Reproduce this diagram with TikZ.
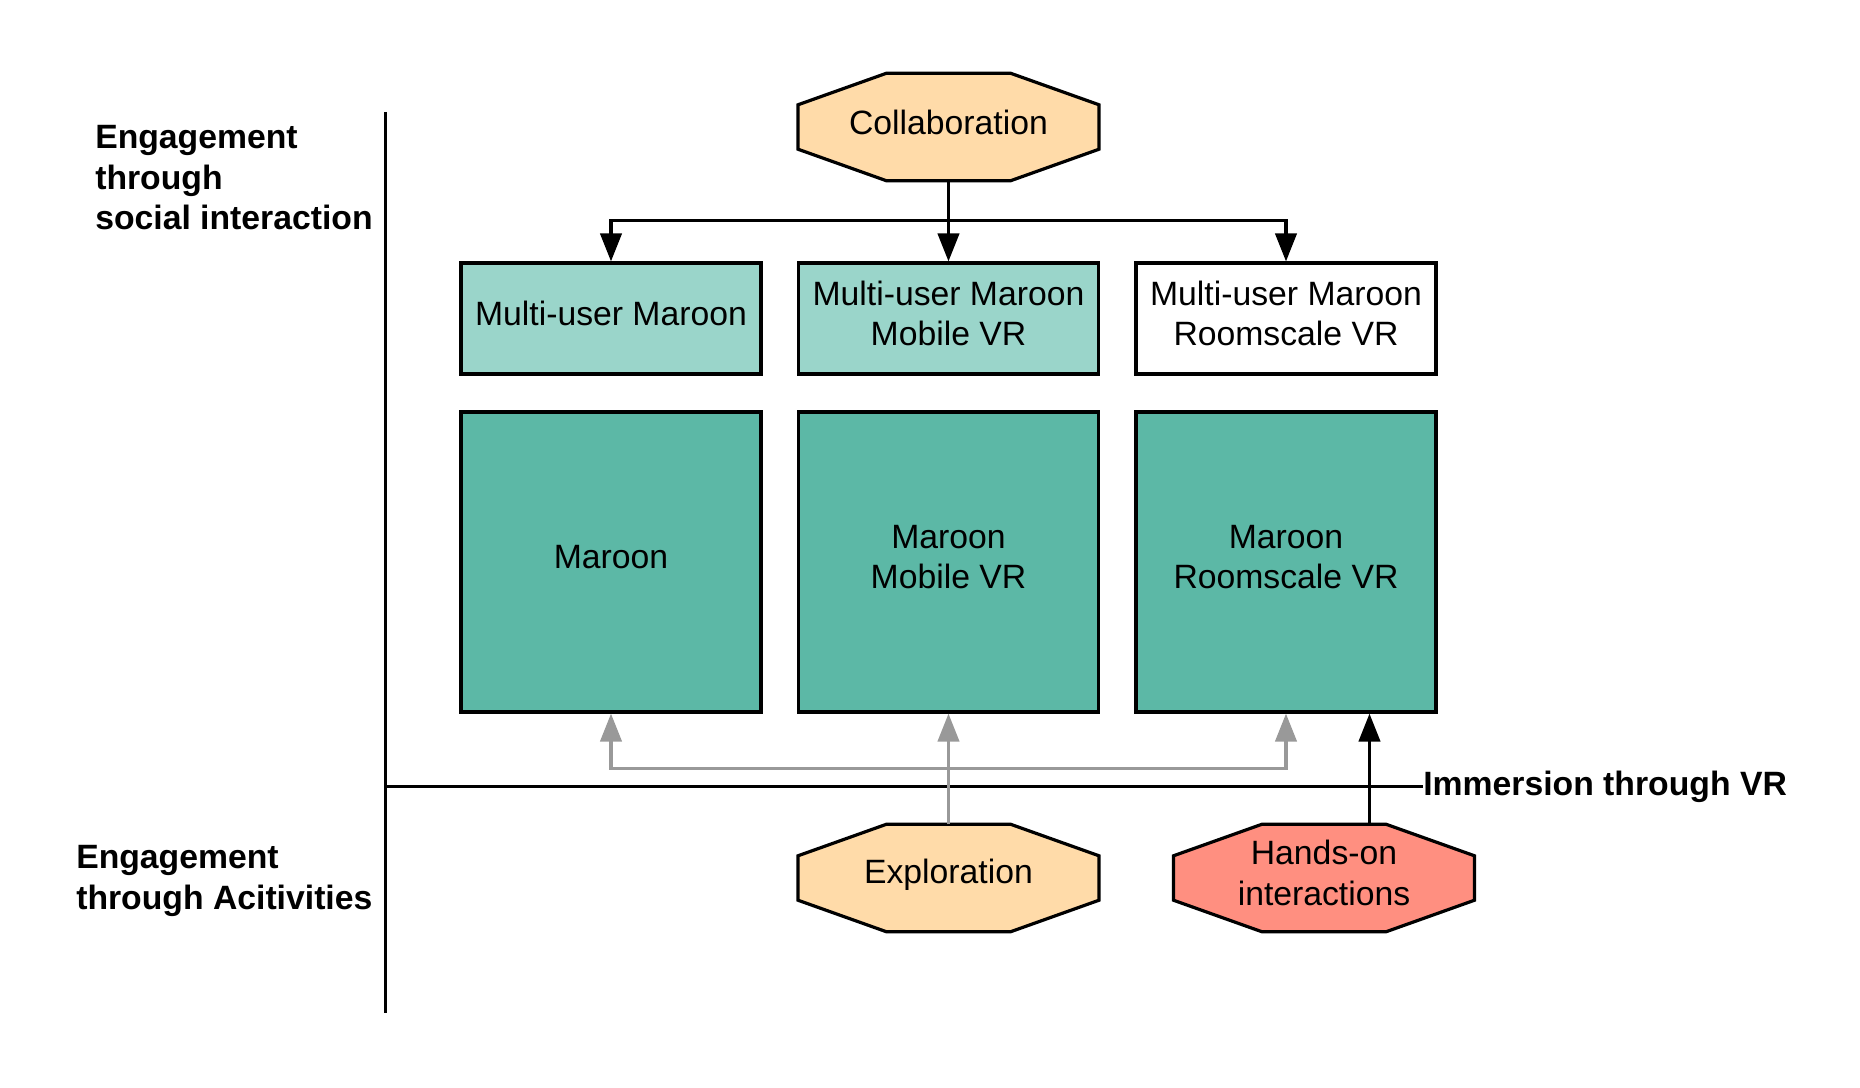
\documentclass[tikz,border=0pt]{standalone}
\usepackage{fontspec}
\setmainfont{Liberation Sans}
\usetikzlibrary{arrows.meta,calc,backgrounds}
\definecolor{peach}{HTML}{FFDBA9}
\definecolor{salmon}{HTML}{FF8F80}
\definecolor{lightteal}{HTML}{9AD5CA}
\definecolor{maroonteal}{HTML}{5CB8A6}
\definecolor{arrowgray}{HTML}{999999}
\tikzstyle{mubox} = [rectangle, draw=black, line width=2.4pt, minimum width=225pt, minimum height=83.25pt, text depth=7.5pt, align=center]
\tikzstyle{appbox} = [rectangle, draw=black, line width=2.4pt, fill=maroonteal, minimum width=225pt, minimum height=225pt, text depth=7.5pt, align=center]
\tikzstyle{octo} = [rectangle, outer sep=0pt, minimum width=225.75pt, minimum height=80.5pt, text depth=7.5pt, align=center]
\tikzstyle{conn} = [line width=2.4pt, -{Triangle[length=21pt,width=16pt]}]
\tikzstyle{gconn} = [conn, draw=arrowgray]
\tikzstyle{axis} = [line width=2.4pt]
\tikzstyle{axislabel} = [font=\fontsize{25.3}{30.4}\selectfont\bfseries, inner sep=0pt, align=left]

\begin{document}
\begin{tikzpicture}[x=0.75pt, y=-0.75pt, font=\fontsize{25.3}{30.4}\selectfont]
    \useasboundingbox (0,0) rectangle (1860,1088);
    \node[octo] (collab) at (948.5,127) {Collaboration};
    \node[mubox, fill=lightteal] (mu1) at (611,318.5) {Multi-user Maroon};
    \node[mubox, fill=lightteal] (mu2) at (948.5,318.5) {Multi-user Maroon\\Mobile VR};
    \node[mubox, fill=white] (mu3) at (1286,318.5) {Multi-user Maroon\\Roomscale VR};
    \node[appbox] (app1) at (611,562) {Maroon};
    \node[appbox] (app2) at (948.5,562) {Maroon\\Mobile VR};
    \node[appbox] (app3) at (1286,562) {Maroon\\Roomscale VR};
    \node[octo, text depth=9.6pt] (explore) at (948.5,878) {Exploration};
    \node[octo] (hands) at (1324,878) {Hands-on\\interactions};

    \node[axislabel, anchor=west] (social) at (95,178) {Engagement\\through\\social interaction};
    \node[axislabel, anchor=west] (activ) at (76,881) {Engagement\\through Acitivities};
    \node[axislabel, anchor=west] (immersion) at (1423,786.6) {Immersion through VR};
    \coordinate (ytop) at (385.5,112);
    \coordinate (ybot) at (385.5,1013);
    \coordinate (origin) at (385.5,786.6);
    \draw[axis] (ytop) -- (ybot);
    \draw[axis] (origin) -- (immersion.west);

    \coordinate (bus) at ($(collab.south)+(0,40)$);
    \draw[conn] (collab.south) -- (mu2.north);
    \draw[conn] (bus) -| (mu1.north);
    \draw[conn] (bus) -| (mu3.north);

    \coordinate (gbus) at ($(explore.north)+(0,-56)$);
    \draw[gconn] (explore.north) -- (app2.south);
    \draw[gconn] (gbus) -| (app1.south);
    \draw[gconn] (gbus) -| (app3.south);

    \coordinate (hfoot) at ($(hands.north)+(45.5,0)$);
    \draw[conn] (hfoot) -- (hfoot |- app3.south);

    \begin{scope}[on background layer]
        \foreach \n/\c in {collab/peach, explore/peach, hands/salmon}
            \filldraw[fill=\c, draw=black, line width=2.4pt]
                ($(\n.north west)!.293!(\n.north east)$) -- ($(\n.north east)!.293!(\n.north west)$)
                -- ($(\n.north east)!.293!(\n.south east)$) -- ($(\n.south east)!.293!(\n.north east)$)
                -- ($(\n.south east)!.293!(\n.south west)$) -- ($(\n.south west)!.293!(\n.south east)$)
                -- ($(\n.south west)!.293!(\n.north west)$) -- ($(\n.north west)!.293!(\n.south west)$) -- cycle;
    \end{scope}
\end{tikzpicture}
\end{document}
